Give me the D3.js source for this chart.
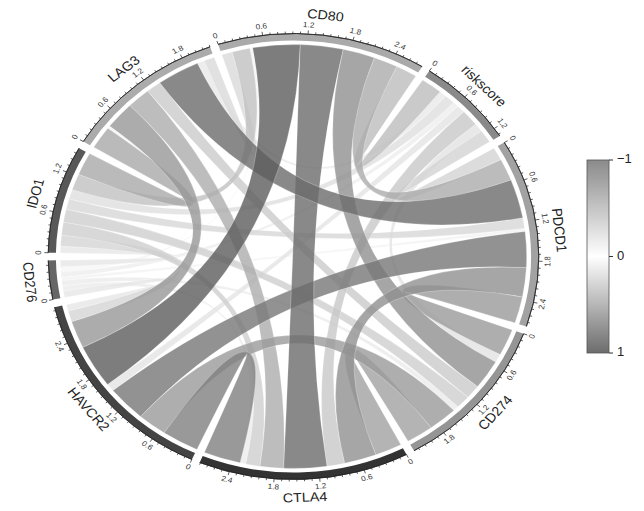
<!DOCTYPE html>
<html>
<head>
<meta charset="utf-8">
<script src="https://cdn.jsdelivr.net/npm/d3@7"></script>
<style>
body { margin: 0; background: #fff; }
svg { display: block; font-family: "Liberation Sans", Arial, sans-serif; }
</style>
</head>
<body>
<svg id="chart" width="644" height="511"></svg>
<script>
// sectors, clockwise from the top
var genes = ["CD80", "riskscore", "PDCD1", "CD274", "CTLA4", "HAVCR2", "CD276", "IDO1", "LAG3"];

var corr = [
  [ 1.00, -0.30,  0.34,  0.45,  0.60,  0.66,  0.04,  0.25,  0.15],
  [-0.30,  1.00, -0.20, -0.13, -0.25, -0.12, -0.08, -0.15, -0.10],
  [ 0.34, -0.20,  1.00,  0.41,  0.45,  0.55,  0.05,  0.16,  0.60],
  [ 0.45, -0.13,  0.41,  1.00,  0.38,  0.41,  0.08,  0.20,  0.21],
  [ 0.60, -0.25,  0.45,  0.38,  1.00,  0.52,  0.08,  0.20,  0.33],
  [ 0.66, -0.12,  0.55,  0.41,  0.52,  1.00,  0.10,  0.17,  0.42],
  [ 0.04, -0.08,  0.05,  0.08,  0.08,  0.10,  1.00,  0.10,  0.04],
  [ 0.25, -0.15,  0.16,  0.20,  0.20,  0.17,  0.10,  1.00,  0.35],
  [ 0.15, -0.10,  0.60,  0.21,  0.33,  0.42,  0.04,  0.35,  1.00]
];

var legendTicks = [-1, 0, 1];

var trackColors = ["#aaaaaa", "#8a8a8a", "#a2a2a2", "#959595", "#333333", "#444444", "#666666", "#585858", "#ababab"];

var svg = d3.select("#chart");
var cx = 293.5, cy = 256.5, sx = 1.1;
var rLink = 212, rTrackIn = 216, rTrackOut = 223;

var n = genes.length;
var totals = genes.map(function(g, i) {
  return d3.sum(corr[i], function(v, j) { return j === i ? 0 : Math.abs(v); });
});
var gap = 2 * Math.PI / 180;
var start0 = -17.9 * Math.PI / 180;
var angle = d3.scaleLinear()
  .domain([0, d3.sum(totals)])
  .range([0, 2 * Math.PI - n * gap]);

// sector extents
var sectors = [];
var acc = 0;
genes.forEach(function(g, i) {
  var a0 = start0 + angle(acc) + i * gap;
  sectors.push({ name: g, i: i, total: totals[i], a0: a0, a1: a0 + angle(totals[i]) });
  acc += totals[i];
});

// link ends: in each sector, the other ends follow the counter-clockwise neighbours first
var ends = genes.map(function() { return []; });
sectors.forEach(function(s, i) {
  var pos = 0;
  for (var m = 1; m < n; m++) {
    var j = (i - m + n) % n;
    var w = Math.abs(corr[i][j]);
    ends[i][j] = { startAngle: s.a0 + angle(pos), endAngle: s.a0 + angle(pos + w), radius: rLink };
    pos += w;
  }
});

var chordColor = d3.scaleLinear().domain([-1, 0, 1]).range(["#222222", "#ffffff", "#080808"]);
var legendColor = d3.scaleLinear().domain([-1, 0, 1]).range(["#8a8a8a", "#ffffff", "#6c6c6c"]);

var g = svg.append("g").attr("transform", "translate(" + cx + "," + cy + ") scale(" + sx + ",1)");

var ribbon = d3.ribbon();
var links = [];
for (var i = 0; i < n; i++) {
  for (var j = 0; j < i; j++) {
    links.push({ i: i, j: j, r: corr[i][j] });
  }
}
// weaker links first so the strong ones sit on top
links.sort(function(a, b) { return Math.abs(a.r) - Math.abs(b.r); });

g.append("g").selectAll("path")
  .data(links)
  .enter().append("path")
  .attr("d", function(d) { return ribbon({ source: ends[d.j][d.i], target: ends[d.i][d.j] }); })
  .attr("fill", function(d) { return chordColor(d.r); })
  .attr("fill-opacity", 0.8)
  .attr("stroke", "#fff")
  .attr("stroke-opacity", 0.6)
  .attr("stroke-width", 0.4);

// outer track
var trackArc = d3.arc().innerRadius(rTrackIn).outerRadius(rTrackOut);
g.append("g").selectAll("path")
  .data(sectors)
  .enter().append("path")
  .attr("d", function(d) { return trackArc({ startAngle: d.a0, endAngle: d.a1 }); })
  .attr("fill", function(d) { return trackColors[d.i]; });

function pt(a, r) { return [r * Math.sin(a), -r * Math.cos(a)]; }
function rot(a) {
  var deg = a * 180 / Math.PI;
  deg = ((deg % 360) + 360) % 360;
  if (deg > 90 && deg < 270) deg -= 180;
  return deg;
}

// axes
var baseArc = d3.arc().innerRadius(rTrackOut).outerRadius(rTrackOut);
var axes = g.append("g");
sectors.forEach(function(s) {
  var sc = d3.scaleLinear().domain([0, s.total]).range([s.a0, s.a1]);
  axes.append("path")
    .attr("d", baseArc({ startAngle: s.a0, endAngle: s.a1 }))
    .attr("fill", "none").attr("stroke", "#222").attr("stroke-width", 0.7);
  var ticks = d3.range(0, Math.floor(s.total * 10 + 1e-6) + 1);
  ticks.forEach(function(k) {
    var a = sc(k / 10);
    var major = k % 6 === 0;
    var p0 = pt(a, rTrackOut), p1 = pt(a, rTrackOut + (major ? 3.5 : 2));
    axes.append("line")
      .attr("x1", p0[0]).attr("y1", p0[1]).attr("x2", p1[0]).attr("y2", p1[1])
      .attr("stroke", "#222").attr("stroke-width", 0.7);
    if (major) {
      var p = pt(a, rTrackOut + 8.5);
      axes.append("text")
        .attr("transform", "translate(" + p[0] + "," + p[1] + ") rotate(" + rot(a) + ")")
        .attr("text-anchor", "middle")
        .attr("dominant-baseline", "middle")
        .attr("font-size", 7.5)
        .attr("fill", "#333")
        .text(k === 0 ? "0" : d3.format(".1f")(k / 10));
    }
  });
  var am = (s.a0 + s.a1) / 2;
  var pn = pt(am, 242);
  axes.append("text")
    .attr("transform", "translate(" + pn[0] + "," + pn[1] + ") rotate(" + rot(am) + ")")
    .attr("text-anchor", "middle")
    .attr("dominant-baseline", "middle")
    .attr("font-size", 13)
    .attr("fill", "#222")
    .text(s.name);
});

// colour legend
var defs = svg.append("defs");
var grad = defs.append("linearGradient").attr("id", "lg").attr("x1", 0).attr("x2", 0).attr("y1", 0).attr("y2", 1);
d3.range(-1, 1.001, 0.1).forEach(function(v) {
  grad.append("stop").attr("offset", (v + 1) / 2).attr("stop-color", legendColor(v));
});
var ly = d3.scaleLinear().domain([-1, 1]).range([160, 353]);
var lg = svg.append("g");
lg.append("rect")
  .attr("x", 587).attr("y", ly(-1)).attr("width", 22).attr("height", ly(1) - ly(-1))
  .attr("fill", "url(#lg)").attr("stroke", "#555").attr("stroke-width", 0.8);
lg.selectAll("line").data(legendTicks).enter().append("line")
  .attr("x1", 609).attr("x2", 613)
  .attr("y1", function(d) { return ly(d); }).attr("y2", function(d) { return ly(d); })
  .attr("stroke", "#333");
lg.selectAll("text").data(legendTicks).enter().append("text")
  .attr("x", 617).attr("y", function(d) { return ly(d); })
  .attr("dominant-baseline", "middle")
  .attr("font-size", 13)
  .attr("fill", "#222")
  .text(function(d) { return d < 0 ? "\u2212" + Math.abs(d) : d; });
</script>
</body>
</html>
